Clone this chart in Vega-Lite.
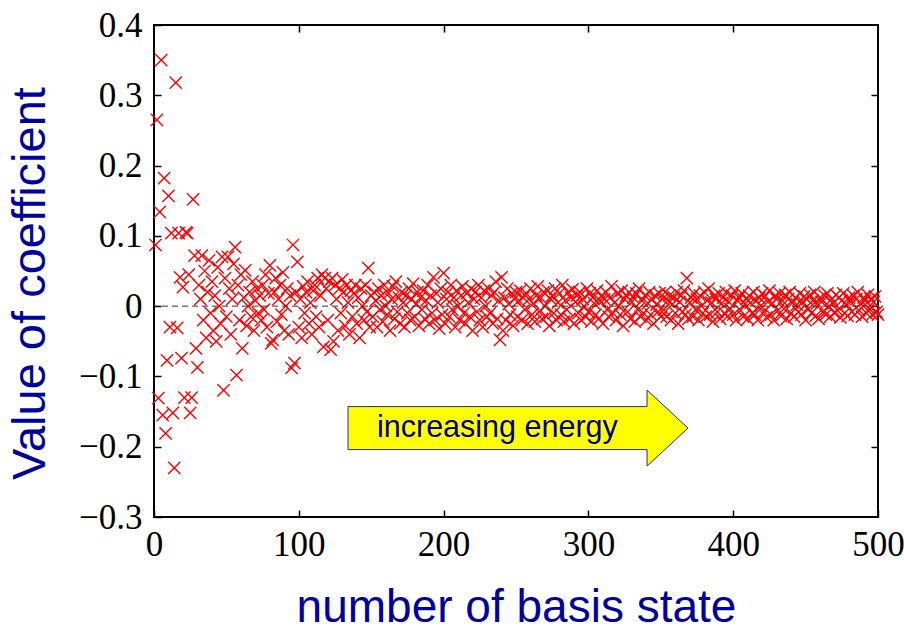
{
  "$schema": "https://vega.github.io/schema/vega-lite/v6.json",
  "width": 724,
  "height": 492,
  "autosize": {"type": "none"},
  "padding": {"left": 154, "top": 25, "right": 26, "bottom": 111},
  "background": "white",
  "datasets": {
    "coef": [
      {"n":1,"c":0.087},{"n":2,"c":0.265},{"n":3,"c":-0.131},{"n":4,"c":0.134},{"n":5,"c":0.35},{"n":6,"c":-0.155},{"n":7,"c":0.182},{"n":8,"c":-0.181},{"n":9,"c":-0.077},{"n":10,"c":0.157},
      {"n":11,"c":-0.03},{"n":12,"c":0.104},{"n":13,"c":-0.152},{"n":14,"c":-0.23},{"n":15,"c":0.318},{"n":16,"c":-0.031},{"n":17,"c":0.104},{"n":18,"c":0.041},{"n":19,"c":-0.074},{"n":20,"c":0.027},
      {"n":21,"c":-0.13},{"n":22,"c":0.105},{"n":23,"c":0.104},{"n":24,"c":0.045},{"n":25,"c":-0.152},{"n":26,"c":-0.13},{"n":27,"c":0.152},{"n":28,"c":0.072},{"n":29,"c":-0.06},{"n":30,"c":-0.087},
      {"n":31,"c":0.03},{"n":32,"c":0.01},{"n":33,"c":0.072},{"n":34,"c":-0.02},{"n":35,"c":0.05},{"n":36,"c":-0.045},{"n":37,"c":0.02},{"n":38,"c":0.065},{"n":39,"c":-0.01},{"n":40,"c":0.035},
      {"n":41,"c":-0.035},{"n":42,"c":0.015},{"n":43,"c":-0.05},{"n":44,"c":0.055},{"n":45,"c":0.0},{"n":46,"c":-0.025},{"n":47,"c":0.07},{"n":48,"c":-0.12},{"n":49,"c":0.04},{"n":50,"c":-0.015},
      {"n":51,"c":0.07},{"n":52,"c":0.025},{"n":53,"c":-0.04},{"n":54,"c":0.01},{"n":55,"c":0.06},{"n":56,"c":0.084},{"n":57,"c":-0.098},{"n":58,"c":0.03},{"n":59,"c":-0.02},{"n":60,"c":0.045},
      {"n":61,"c":-0.06},{"n":62,"c":0.012},{"n":63,"c":0.051},{"n":64,"c":-0.028},{"n":65,"c":0.0},{"n":66,"c":0.02},{"n":67,"c":-0.015},{"n":68,"c":0.035},{"n":69,"c":-0.035},{"n":70,"c":0.008},
      {"n":71,"c":0.025},{"n":72,"c":-0.01},{"n":73,"c":0.015},{"n":74,"c":-0.02},{"n":75,"c":0.03},{"n":76,"c":-0.005},{"n":77,"c":0.045},{"n":78,"c":-0.03},{"n":79,"c":0.018},{"n":80,"c":0.058},
      {"n":81,"c":-0.053},{"n":82,"c":-0.048},{"n":83,"c":0.02},{"n":84,"c":0.04},{"n":85,"c":-0.022},{"n":86,"c":0.01},{"n":87,"c":0.03},{"n":88,"c":-0.012},{"n":89,"c":0.048},{"n":90,"c":-0.035},
      {"n":91,"c":0.0},{"n":92,"c":0.025},{"n":93,"c":-0.04},{"n":94,"c":0.015},{"n":95,"c":-0.088},{"n":96,"c":0.087},{"n":97,"c":-0.081},{"n":98,"c":0.02},{"n":99,"c":0.063},{"n":100,"c":-0.03},
      {"n":101,"c":0.01},{"n":102,"c":-0.045},{"n":103,"c":0.028},{"n":104,"c":-0.01},{"n":105,"c":0.02},{"n":106,"c":0.035},{"n":107,"c":-0.025},{"n":108,"c":0.005},{"n":109,"c":-0.04},{"n":110,"c":0.022},
      {"n":111,"c":0.03},{"n":112,"c":-0.015},{"n":113,"c":0.04},{"n":114,"c":-0.03},{"n":115,"c":0.015},{"n":116,"c":0.045},{"n":117,"c":-0.058},{"n":118,"c":0.04},{"n":119,"c":0.025},{"n":120,"c":-0.02},
      {"n":121,"c":0.035},{"n":122,"c":-0.062},{"n":123,"c":0.04},{"n":124,"c":-0.05},{"n":125,"c":0.03},{"n":126,"c":0.01},{"n":127,"c":-0.035},{"n":128,"c":0.025},{"n":129,"c":-0.01},{"n":130,"c":0.038},
      {"n":131,"c":0.02},{"n":132,"c":-0.028},{"n":133,"c":0.03},{"n":134,"c":0.005},{"n":135,"c":-0.04},{"n":136,"c":0.022},{"n":137,"c":-0.015},{"n":138,"c":0.018},{"n":139,"c":0.03},{"n":140,"c":-0.025},
      {"n":141,"c":0.012},{"n":142,"c":-0.045},{"n":143,"c":0.025},{"n":144,"c":0.0},{"n":145,"c":-0.02},{"n":146,"c":0.03},{"n":147,"c":-0.008},{"n":148,"c":0.054},{"n":149,"c":-0.03},{"n":150,"c":0.015},
      {"n":151,"c":-0.015},{"n":152,"c":0.02},{"n":153,"c":0.008},{"n":154,"c":-0.03},{"n":155,"c":0.025},{"n":156,"c":-0.005},{"n":157,"c":0.015},{"n":158,"c":-0.022},{"n":159,"c":0.03},{"n":160,"c":0.0},
      {"n":161,"c":-0.012},{"n":162,"c":0.018},{"n":163,"c":-0.035},{"n":164,"c":0.01},{"n":165,"c":0.028},{"n":166,"c":-0.018},{"n":167,"c":0.035},{"n":168,"c":-0.008},{"n":169,"c":0.012},{"n":170,"c":-0.025},
      {"n":171,"c":0.02},{"n":172,"c":0.005},{"n":173,"c":-0.03},{"n":174,"c":0.015},{"n":175,"c":-0.01},{"n":176,"c":0.025},{"n":177,"c":-0.02},{"n":178,"c":0.01},{"n":179,"c":0.032},{"n":180,"c":-0.015},
      {"n":181,"c":0.003},{"n":182,"c":0.02},{"n":183,"c":-0.028},{"n":184,"c":0.012},{"n":185,"c":-0.005},{"n":186,"c":0.022},{"n":187,"c":-0.018},{"n":188,"c":0.008},{"n":189,"c":0.03},{"n":190,"c":-0.025},
      {"n":191,"c":0.015},{"n":192,"c":-0.01},{"n":193,"c":0.041},{"n":194,"c":-0.02},{"n":195,"c":0.018},{"n":196,"c":0.005},{"n":197,"c":-0.032},{"n":198,"c":0.025},{"n":199,"c":-0.012},{"n":200,"c":0.047},
      {"n":201,"c":-0.025},{"n":202,"c":0.01},{"n":203,"c":0.02},{"n":204,"c":-0.015},{"n":205,"c":0.03},{"n":206,"c":-0.005},{"n":207,"c":0.012},{"n":208,"c":-0.03},{"n":209,"c":0.022},{"n":210,"c":0.0},
      {"n":211,"c":-0.02},{"n":212,"c":0.015},{"n":213,"c":0.028},{"n":214,"c":-0.01},{"n":215,"c":-0.025},{"n":216,"c":0.018},{"n":217,"c":0.005},{"n":218,"c":-0.015},{"n":219,"c":0.025},{"n":220,"c":-0.035},
      {"n":221,"c":0.01},{"n":222,"c":0.02},{"n":223,"c":-0.008},{"n":224,"c":0.03},{"n":225,"c":-0.02},{"n":226,"c":0.012},{"n":227,"c":-0.03},{"n":228,"c":0.022},{"n":229,"c":0.0},{"n":230,"c":-0.015},
      {"n":231,"c":0.025},{"n":232,"c":-0.01},{"n":233,"c":0.015},{"n":234,"c":-0.025},{"n":235,"c":0.02},{"n":236,"c":0.035},{"n":237,"c":-0.018},{"n":238,"c":0.008},{"n":239,"c":-0.048},{"n":240,"c":0.041},
      {"n":241,"c":-0.035},{"n":242,"c":0.012},{"n":243,"c":-0.02},{"n":244,"c":0.025},{"n":245,"c":0.003},{"n":246,"c":-0.012},{"n":247,"c":0.018},{"n":248,"c":-0.028},{"n":249,"c":0.01},{"n":250,"c":0.02},
      {"n":251,"c":-0.015},{"n":252,"c":0.008},{"n":253,"c":0.022},{"n":254,"c":-0.02},{"n":255,"c":0.012},{"n":256,"c":-0.005},{"n":257,"c":0.018},{"n":258,"c":-0.025},{"n":259,"c":0.01},{"n":260,"c":0.025},
      {"n":261,"c":-0.012},{"n":262,"c":0.004},{"n":263,"c":-0.022},{"n":264,"c":0.015},{"n":265,"c":0.028},{"n":266,"c":-0.008},{"n":267,"c":0.012},{"n":268,"c":-0.018},{"n":269,"c":0.02},{"n":270,"c":0.0},
      {"n":271,"c":-0.015},{"n":272,"c":0.022},{"n":273,"c":-0.028},{"n":274,"c":0.01},{"n":275,"c":0.015},{"n":276,"c":-0.01},{"n":277,"c":0.025},{"n":278,"c":-0.02},{"n":279,"c":0.005},{"n":280,"c":0.018},
      {"n":281,"c":-0.012},{"n":282,"c":0.03},{"n":283,"c":-0.022},{"n":284,"c":0.008},{"n":285,"c":-0.005},{"n":286,"c":0.02},{"n":287,"c":-0.018},{"n":288,"c":0.012},{"n":289,"c":0.024},{"n":290,"c":-0.025},
      {"n":291,"c":0.006},{"n":292,"c":0.015},{"n":293,"c":-0.01},{"n":294,"c":0.02},{"n":295,"c":-0.02},{"n":296,"c":0.01},{"n":297,"c":0.0},{"n":298,"c":-0.015},{"n":299,"c":0.025},{"n":300,"c":-0.008},
      {"n":301,"c":0.018},{"n":302,"c":-0.022},{"n":303,"c":0.012},{"n":304,"c":0.004},{"n":305,"c":-0.012},{"n":306,"c":0.022},{"n":307,"c":-0.018},{"n":308,"c":0.008},{"n":309,"c":0.015},{"n":310,"c":-0.025},
      {"n":311,"c":0.01},{"n":312,"c":0.02},{"n":313,"c":-0.005},{"n":314,"c":-0.015},{"n":315,"c":0.012},{"n":316,"c":0.028},{"n":317,"c":-0.01},{"n":318,"c":0.005},{"n":319,"c":-0.02},{"n":320,"c":0.018},
      {"n":321,"c":0.0},{"n":322,"c":-0.012},{"n":323,"c":0.022},{"n":324,"c":-0.028},{"n":325,"c":0.01},{"n":326,"c":0.015},{"n":327,"c":-0.008},{"n":328,"c":0.02},{"n":329,"c":-0.018},{"n":330,"c":0.006},
      {"n":331,"c":0.012},{"n":332,"c":-0.022},{"n":333,"c":0.018},{"n":334,"c":-0.005},{"n":335,"c":0.025},{"n":336,"c":-0.015},{"n":337,"c":0.008},{"n":338,"c":-0.01},{"n":339,"c":0.015},{"n":340,"c":-0.02},
      {"n":341,"c":0.004},{"n":342,"c":0.02},{"n":343,"c":-0.012},{"n":344,"c":0.01},{"n":345,"c":-0.025},{"n":346,"c":0.015},{"n":347,"c":0.002},{"n":348,"c":-0.008},{"n":349,"c":0.018},{"n":350,"c":-0.015},
      {"n":351,"c":0.01},{"n":352,"c":-0.005},{"n":353,"c":0.02},{"n":354,"c":-0.015},{"n":355,"c":0.008},{"n":356,"c":0.015},{"n":357,"c":-0.02},{"n":358,"c":0.003},{"n":359,"c":0.012},{"n":360,"c":-0.01},
      {"n":361,"c":0.02},{"n":362,"c":-0.025},{"n":363,"c":0.006},{"n":364,"c":0.015},{"n":365,"c":-0.008},{"n":366,"c":0.022},{"n":367,"c":-0.012},{"n":368,"c":0.04},{"n":369,"c":-0.018},{"n":370,"c":0.005},
      {"n":371,"c":0.012},{"n":372,"c":-0.015},{"n":373,"c":0.018},{"n":374,"c":-0.005},{"n":375,"c":0.01},{"n":376,"c":-0.02},{"n":377,"c":0.015},{"n":378,"c":0.0},{"n":379,"c":-0.01},{"n":380,"c":0.02},
      {"n":381,"c":-0.015},{"n":382,"c":0.008},{"n":383,"c":0.025},{"n":384,"c":-0.012},{"n":385,"c":0.005},{"n":386,"c":-0.022},{"n":387,"c":0.015},{"n":388,"c":0.01},{"n":389,"c":-0.008},{"n":390,"c":0.018},
      {"n":391,"c":-0.018},{"n":392,"c":0.004},{"n":393,"c":0.012},{"n":394,"c":-0.01},{"n":395,"c":0.02},{"n":396,"c":-0.015},{"n":397,"c":0.006},{"n":398,"c":-0.004},{"n":399,"c":0.015},{"n":400,"c":-0.012},
      {"n":401,"c":0.022},{"n":402,"c":-0.02},{"n":403,"c":0.008},{"n":404,"c":0.012},{"n":405,"c":-0.006},{"n":406,"c":0.018},{"n":407,"c":-0.015},{"n":408,"c":0.003},{"n":409,"c":0.01},{"n":410,"c":-0.018},
      {"n":411,"c":0.015},{"n":412,"c":0.005},{"n":413,"c":-0.01},{"n":414,"c":0.02},{"n":415,"c":-0.012},{"n":416,"c":0.008},{"n":417,"c":-0.02},{"n":418,"c":0.012},{"n":419,"c":0.0},{"n":420,"c":0.018},
      {"n":421,"c":-0.008},{"n":422,"c":0.014},{"n":423,"c":-0.016},{"n":424,"c":0.006},{"n":425,"c":0.022},{"n":426,"c":-0.012},{"n":427,"c":0.004},{"n":428,"c":-0.02},{"n":429,"c":0.015},{"n":430,"c":0.01},
      {"n":431,"c":-0.006},{"n":432,"c":0.018},{"n":433,"c":-0.014},{"n":434,"c":0.008},{"n":435,"c":-0.004},{"n":436,"c":0.016},{"n":437,"c":-0.018},{"n":438,"c":0.01},{"n":439,"c":0.02},{"n":440,"c":-0.01},
      {"n":441,"c":0.005},{"n":442,"c":-0.015},{"n":443,"c":0.012},{"n":444,"c":0.002},{"n":445,"c":-0.008},{"n":446,"c":0.018},{"n":447,"c":-0.012},{"n":448,"c":0.006},{"n":449,"c":0.014},{"n":450,"c":-0.02},
      {"n":451,"c":0.01},{"n":452,"c":-0.004},{"n":453,"c":0.016},{"n":454,"c":-0.01},{"n":455,"c":0.008},{"n":456,"c":0.02},{"n":457,"c":-0.014},{"n":458,"c":0.004},{"n":459,"c":-0.018},{"n":460,"c":0.012},
      {"n":461,"c":0.006},{"n":462,"c":-0.008},{"n":463,"c":0.015},{"n":464,"c":-0.012},{"n":465,"c":0.018},{"n":466,"c":0.0},{"n":467,"c":-0.015},{"n":468,"c":0.01},{"n":469,"c":0.004},{"n":470,"c":-0.01},
      {"n":471,"c":0.016},{"n":472,"c":-0.006},{"n":473,"c":0.012},{"n":474,"c":-0.016},{"n":475,"c":0.008},{"n":476,"c":0.018},{"n":477,"c":-0.01},{"n":478,"c":0.003},{"n":479,"c":-0.014},{"n":480,"c":0.012},
      {"n":481,"c":0.006},{"n":482,"c":-0.008},{"n":483,"c":0.015},{"n":484,"c":-0.012},{"n":485,"c":0.01},{"n":486,"c":0.02},{"n":487,"c":-0.006},{"n":488,"c":0.004},{"n":489,"c":-0.015},{"n":490,"c":0.012},
      {"n":491,"c":0.008},{"n":492,"c":-0.01},{"n":493,"c":0.016},{"n":494,"c":-0.004},{"n":495,"c":0.01},{"n":496,"c":-0.012},{"n":497,"c":0.006},{"n":498,"c":0.014},{"n":499,"c":-0.008},{"n":500,"c":-0.012}
    ],
    "note": [{"n": 251.4, "c": -0.1735, "tx": 154, "label": "increasing energy"}]
  },
  "layer": [
    {
      "data": {"name": "coef"},
      "mark": {"type": "point", "shape": "M-1,-1L1,1M-1,1L1,-1", "filled": false, "stroke": "#ff0000", "strokeWidth": 1.4, "size": 150, "opacity": 1},
      "encoding": {
        "x": {"field": "n", "type": "quantitative", "scale": {"domain": [0, 500], "nice": false, "zero": false},
              "axis": {"orient": "bottom", "values": [0, 100, 200, 300, 400, 500], "labelFlush": false, "labelOverlap": false, "labelPadding": 17, "title": "number of basis state", "titleFontSize": 46, "titleY": 104, "titleBaseline": "alphabetic"}},
        "y": {"field": "c", "type": "quantitative", "scale": {"domain": [-0.3, 0.4], "nice": false, "zero": false},
              "axis": {"orient": "left", "values": [-0.3, -0.2, -0.1, 0, 0.1, 0.2, 0.3, 0.4], "format": "~g", "labelFlush": false, "labelOverlap": false, "labelPadding": 19, "title": "Value of coefficient", "titleFontSize": 47, "titleX": -110, "titleY": 258, "titleBaseline": "alphabetic", "titleAngle": -90}}
      }
    },
    {
      "data": {"values": [{"z": 0}]},
      "mark": {"type": "rule", "stroke": "#333333", "strokeWidth": 1, "strokeDash": [6, 4]},
      "encoding": {"y": {"field": "z", "type": "quantitative", "axis": null}}
    },
    {
      "data": {"name": "note"},
      "mark": {"type": "point", "shape": "M-1,-0.1265L0.759,-0.1265L0.759,-0.2235L1,0L0.759,0.2235L0.759,0.1265L-1,0.1265Z", "filled": true, "fill": "#ffff00", "stroke": "#2a2a80", "strokeWidth": 1, "size": 115600, "opacity": 1},
      "encoding": {
        "x": {"field": "n", "type": "quantitative", "axis": {"orient": "top", "values": [100, 200, 300, 400], "labels": false, "title": null}},
        "y": {"field": "c", "type": "quantitative", "axis": {"orient": "right", "values": [-0.2, -0.1, 0, 0.1, 0.2, 0.3], "labels": false, "title": null}}
      }
    },
    {
      "data": {"name": "note"},
      "mark": {"type": "text", "align": "left", "baseline": "middle", "font": "Liberation Sans", "fontSize": 30.5, "fill": "#000090"},
      "encoding": {
        "x": {"field": "tx", "type": "quantitative", "axis": null},
        "y": {"field": "c", "type": "quantitative", "axis": null},
        "text": {"field": "label"}
      }
    }
  ],
  "resolve": {"axis": {"x": "independent", "y": "independent"}},
  "config": {
    "view": {"stroke": "black", "strokeWidth": 2},
    "axis": {
      "grid": false, "domain": false,
      "ticks": true, "tickColor": "black", "tickWidth": 1.5, "tickSize": -7,
      "labelFont": "Liberation Serif", "labelFontSize": 35, "labelColor": "black", "labelPadding": 12,
      "titleFont": "Liberation Sans", "titleFontSize": 44, "titleColor": "#0000a0", "titleFontWeight": "normal"
    }
  }
}
